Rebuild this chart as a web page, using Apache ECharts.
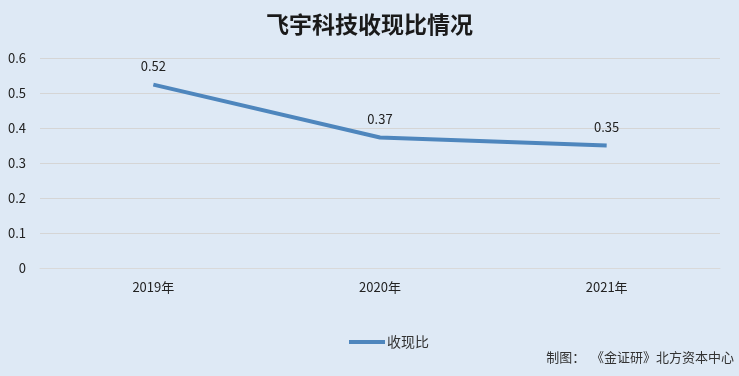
<!DOCTYPE html>
<html>
<head>
<meta charset="utf-8">
<script src="https://cdn.jsdelivr.net/npm/echarts@6/dist/echarts.min.js"></script>
<style>
html, body { margin: 0; padding: 0; background: #dee9f5; }
#main { width: 739px; height: 376px; }
</style>
</head>
<body>
<div id="main"></div>
<script>
var categories = ['2019年', '2020年', '2021年'];
var ratioValues = [0.524, 0.373, 0.35];
var yTicks = [0, 0.1, 0.2, 0.3, 0.4, 0.5, 0.6];

var font = '"Noto Sans CJK SC", "Microsoft YaHei", sans-serif';
var chart = echarts.init(document.getElementById('main'));
chart.setOption({
	backgroundColor: '#dee9f5',
	title: {
		text: '飞宇科技收现比情况',
		left: 'center',
		top: 8,
		textStyle: { fontSize: 23, fontWeight: 'bold', color: '#1a1a1a', fontFamily: font }
	},
	graphic: [{
		type: 'text',
		right: 5,
		top: 351,
		style: { text: '制图：  《金证研》北方资本中心', fontSize: 13, fill: '#333', fontFamily: font }
	}],
	legend: {
		data: ['收现比'],
		left: 344,
		top: 330,
		itemWidth: 36,
		itemHeight: 4,
		itemGap: 2,
		icon: 'rect',
		textStyle: { fontSize: 14, color: '#333', fontFamily: font, padding: [0, 0, 0, -3] }
	},
	grid: { left: 40, right: 19, top: 58, bottom: 108, containLabel: false },
	xAxis: {
		type: 'category',
		data: categories,
		boundaryGap: true,
		axisLine: { show: true, lineStyle: { color: '#d9d9d9' } },
		axisTick: { show: false },
		axisLabel: { fontSize: 13, color: '#222', margin: 13, fontFamily: font }
	},
	yAxis: {
		type: 'value',
		min: yTicks[0],
		max: yTicks[yTicks.length - 1],
		interval: 0.1,
		axisLine: { show: false },
		axisTick: { show: false },
		splitLine: { lineStyle: { color: '#d5d5d5' } },
		axisLabel: {
			fontSize: 13, color: '#222', margin: 14, fontFamily: font,
			formatter: function(v) { return String(Math.round(v * 10) / 10); }
		}
	},
	series: [{
		name: '收现比',
		type: 'line',
		data: ratioValues,
		symbol: 'circle',
		symbolSize: 0,
		showSymbol: true,
		lineStyle: { width: 4, color: '#4e86bd' },
		itemStyle: { color: '#4e86bd' },
		label: {
			show: true,
			position: 'top',
			distance: 12,
			fontSize: 13,
			color: '#222',
			fontFamily: font,
			formatter: function(p) { return p.value.toFixed(2); }
		}
	}]
});
</script>
</body>
</html>
